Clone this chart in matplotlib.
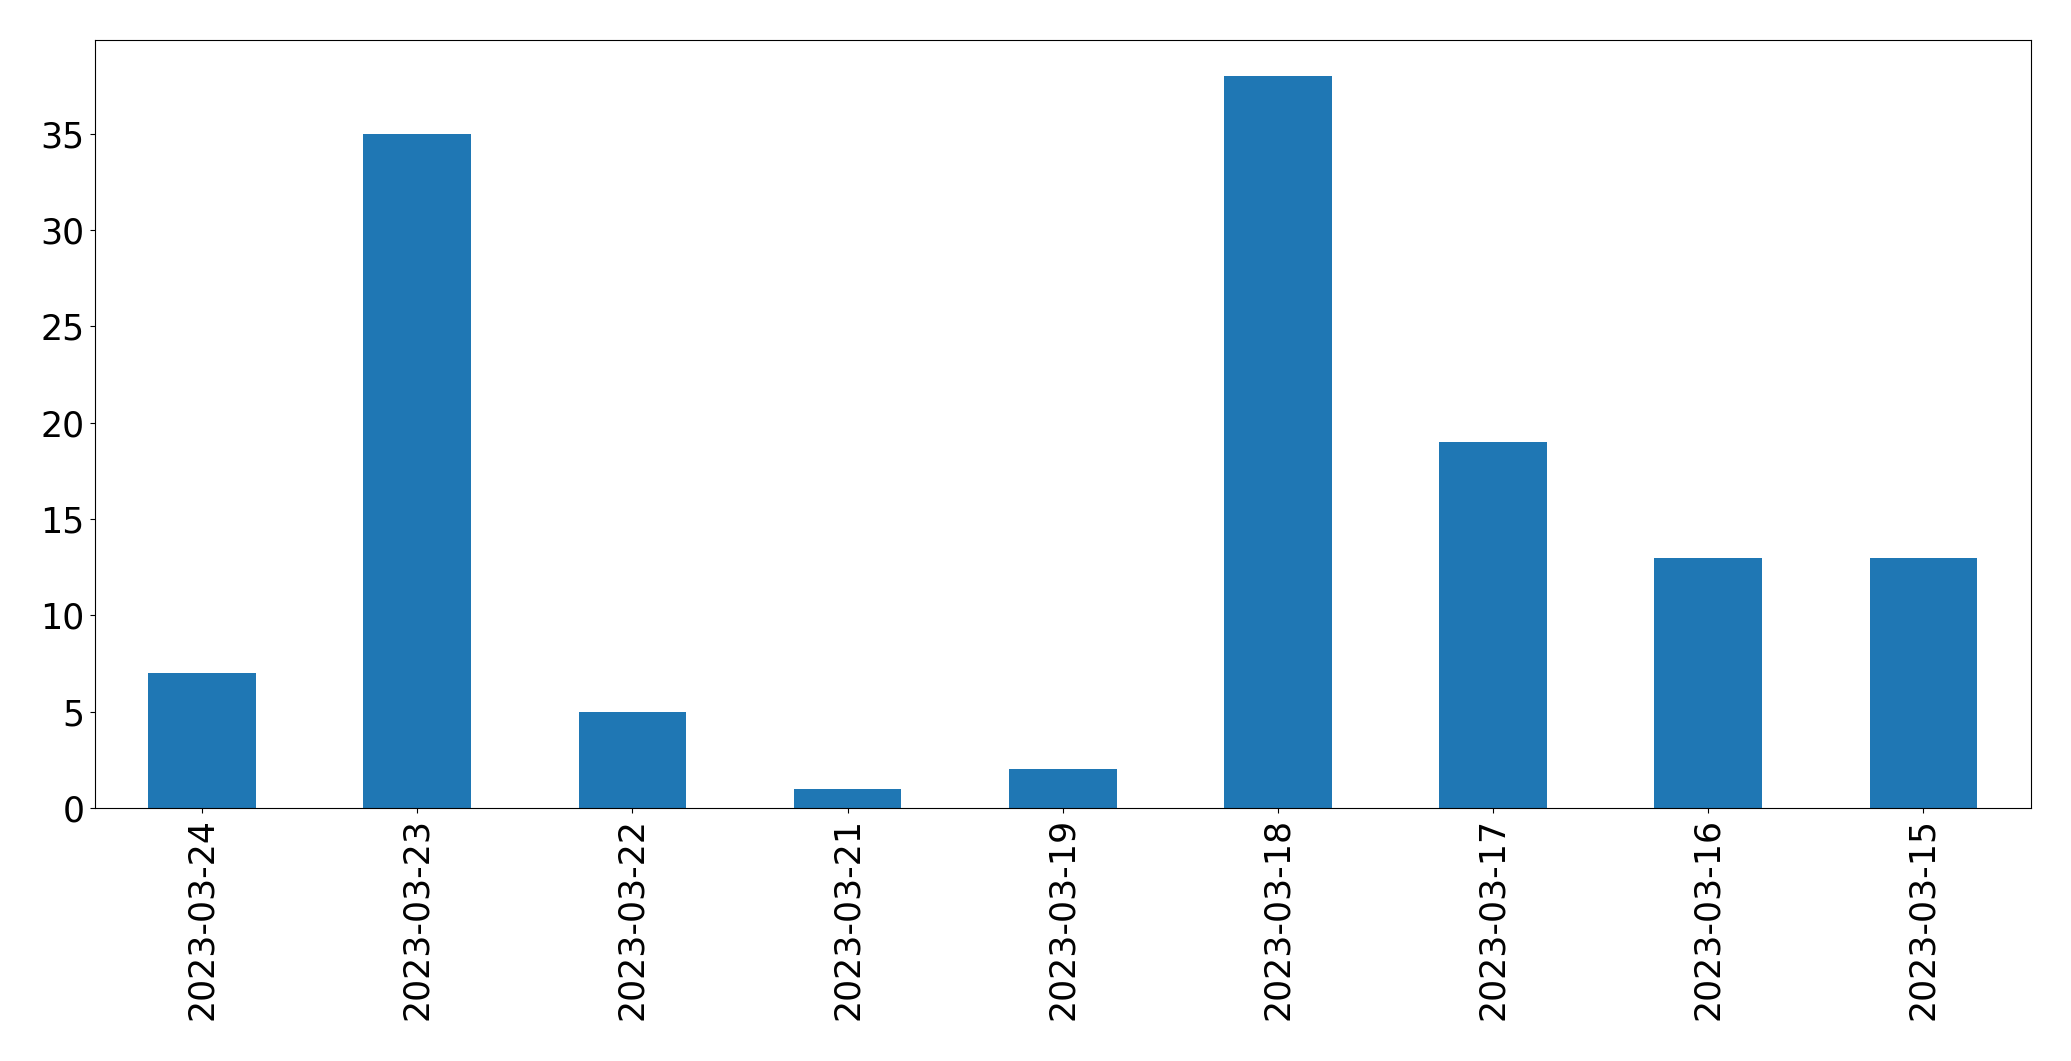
import matplotlib
matplotlib.use("Agg")
import matplotlib.pyplot as plt

dates = ["2023-03-24", "2023-03-23", "2023-03-22", "2023-03-21", "2023-03-19",
         "2023-03-18", "2023-03-17", "2023-03-16", "2023-03-15"]
counts = [7, 35, 5, 1, 2, 38, 19, 13, 13]

fig = plt.figure(figsize=(20.71, 10.61), dpi=100)
ax = fig.add_axes([94.5/2071, 1 - 808/1061, (2031-94.5)/2071, (808-39.5)/1061])
x = list(range(len(dates)))
ax.bar(x, counts, width=0.5, color="#1f77b4")
ax.set_xticks(x)
ax.set_xticklabels(dates, rotation=90)
ax.set_xlim(-0.5, len(dates) - 0.5)
ax.tick_params(labelsize=25)
fig.savefig("out.png", dpi=100)
